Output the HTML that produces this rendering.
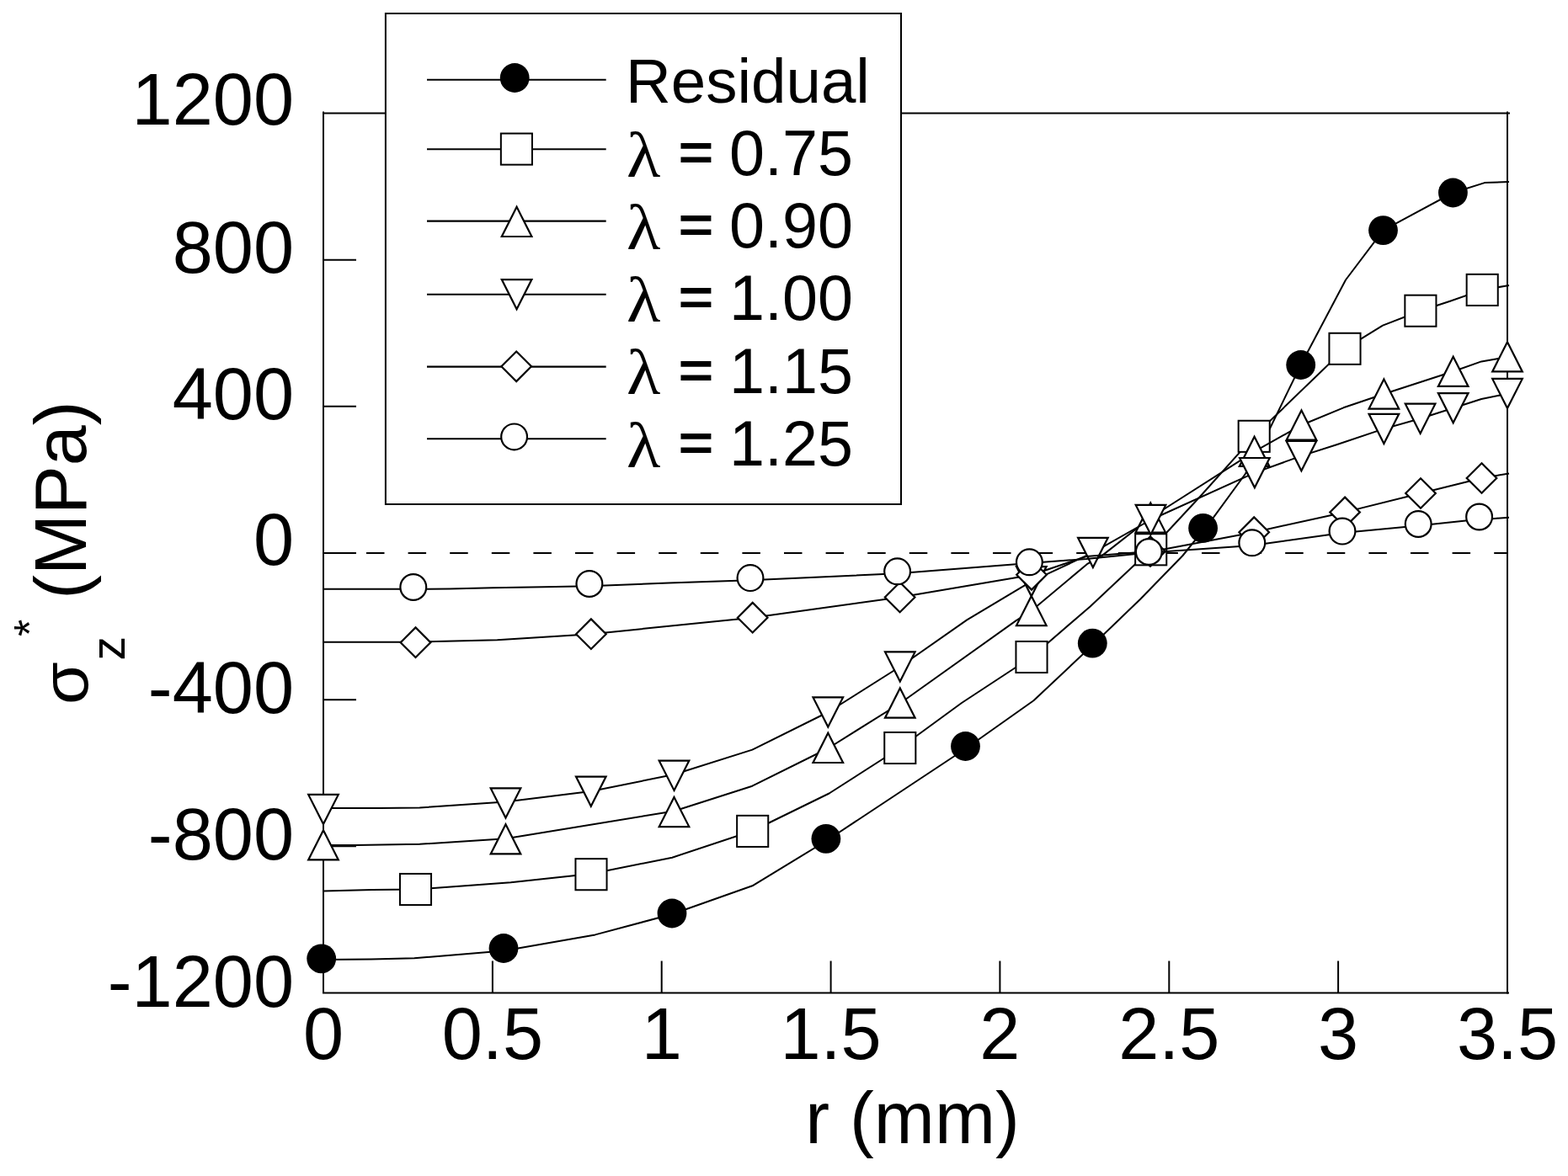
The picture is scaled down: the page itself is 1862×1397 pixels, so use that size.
<!DOCTYPE html>
<html><head><meta charset="utf-8"><title>sigma_z* vs r</title>
<style>html,body{margin:0;padding:0;background:#fff;}body{width:1862px;height:1397px;overflow:hidden;}svg{display:block;}</style>
</head><body>
<svg width="1862" height="1397" viewBox="0 0 1862 1397">
<rect width="1862" height="1397" fill="#fff"/>
<g stroke="#000" stroke-width="2.0" fill="none" stroke-linecap="butt">
<path d="M384.0,132.5 V1179.5 H1792.0"/>
<path d="M383.0,134.5 H1793.0 M1790.0,132.5 V1180.5"/>
<path d="M384.0,308.7 H423.0"/>
<path d="M384.0,482.8 H423.0"/>
<path d="M384.0,657.0 H423.0"/>
<path d="M384.0,831.2 H423.0"/>
<path d="M384.0,1005.3 H423.0"/>
<path d="M584.9,1179.5 V1141.5"/>
<path d="M785.7,1179.5 V1141.5"/>
<path d="M986.6,1179.5 V1141.5"/>
<path d="M1187.4,1179.5 V1141.5"/>
<path d="M1388.3,1179.5 V1141.5"/>
<path d="M1589.1,1179.5 V1141.5"/>
</g>
<path d="M385.4,657.0 H1790.0" stroke="#000" stroke-width="2.0" stroke-dasharray="21.5 28.1" fill="none"/>
<g font-family="Liberation Sans, Arial, sans-serif" font-size="86.5" fill="#000">
<text x="349" y="148" text-anchor="end">1200</text>
<text x="349" y="324.2" text-anchor="end">800</text>
<text x="349" y="497.6" text-anchor="end">400</text>
<text x="349" y="671.2" text-anchor="end">0</text>
<text x="349" y="847" text-anchor="end">-400</text>
<text x="349" y="1021" text-anchor="end">-800</text>
<text x="349" y="1195.6" text-anchor="end">-1200</text>
<text x="384.0" y="1258.2" text-anchor="middle">0</text>
<text x="584.9" y="1258.2" text-anchor="middle">0.5</text>
<text x="785.7" y="1258.2" text-anchor="middle">1</text>
<text x="986.6" y="1258.2" text-anchor="middle">1.5</text>
<text x="1187.4" y="1258.2" text-anchor="middle">2</text>
<text x="1388.3" y="1258.2" text-anchor="middle">2.5</text>
<text x="1589.1" y="1258.2" text-anchor="middle">3</text>
<text x="1790.0" y="1258.2" text-anchor="middle">3.5</text>
<text x="1083.5" y="1357.9" text-anchor="middle">r (mm)</text>
</g>
<g font-family="Liberation Sans, Arial, sans-serif" fill="#000">
<text transform="translate(101.5,711.8) rotate(-90)" font-size="86.5">(MPa)</text>
<text transform="translate(104,837) rotate(-90) scale(1.07,1)" font-size="77">σ</text>
<text transform="translate(148,784.5) rotate(-90)" font-size="57">z</text>
<text transform="translate(53,756) rotate(-90)" font-size="52">*</text>
</g>
<polyline points="384.0,1140.0 441.0,1139.5 492.0,1138.2 598.0,1129.5 706.8,1110.4 798.0,1086.0 893.4,1052.3 981.0,999.0 1146.5,889.5 1227.4,832.2 1297.3,766.5 1354.4,711.5 1404.5,660.0 1441.6,613.9 1478.8,563.0 1508.0,509.0 1544.7,433.5 1598.0,332.5 1642.5,273.6 1725.4,229.0 1763.0,217.1 1792.0,216.0" fill="none" stroke="#000" stroke-width="2.0" stroke-linejoin="round"/>
<circle cx="381.7" cy="1138.8" r="17.4" fill="#000"/>
<circle cx="598.0" cy="1126.5" r="17.4" fill="#000"/>
<circle cx="798.0" cy="1085.0" r="17.4" fill="#000"/>
<circle cx="980.9" cy="996.3" r="17.4" fill="#000"/>
<circle cx="1146.5" cy="886.5" r="17.4" fill="#000"/>
<circle cx="1297.3" cy="764.2" r="17.4" fill="#000"/>
<circle cx="1428.6" cy="627.4" r="17.4" fill="#000"/>
<circle cx="1544.7" cy="433.5" r="17.4" fill="#000"/>
<circle cx="1642.5" cy="273.6" r="17.4" fill="#000"/>
<circle cx="1725.4" cy="229.0" r="17.4" fill="#000"/>
<polyline points="384.0,1058.4 442.0,1057.0 493.5,1056.5 606.5,1048.3 702.0,1038.0 798.2,1018.7 893.7,987.0 984.6,942.5 1068.8,888.5 1142.0,835.0 1225.0,780.5 1294.6,720.4 1366.7,652.8 1425.0,590.0 1489.2,518.3 1597.0,414.3 1642.0,386.6 1686.9,369.2 1722.0,357.7 1760.2,344.4 1792.0,339.0" fill="none" stroke="#000" stroke-width="2.0" stroke-linejoin="round"/>
<rect x="474.95" y="1037.95" width="37.1" height="37.1" fill="#fff" stroke="#000" stroke-width="2.0"/>
<rect x="683.45" y="1020.15" width="37.1" height="37.1" fill="#fff" stroke="#000" stroke-width="2.0"/>
<rect x="875.15" y="968.85" width="37.1" height="37.1" fill="#fff" stroke="#000" stroke-width="2.0"/>
<rect x="1050.25" y="869.95" width="37.1" height="37.1" fill="#fff" stroke="#000" stroke-width="2.0"/>
<rect x="1206.45" y="761.95" width="37.1" height="37.1" fill="#fff" stroke="#000" stroke-width="2.0"/>
<rect x="1348.15" y="634.25" width="37.1" height="37.1" fill="#fff" stroke="#000" stroke-width="2.0"/>
<rect x="1470.65" y="499.75" width="37.1" height="37.1" fill="#fff" stroke="#000" stroke-width="2.0"/>
<rect x="1578.45" y="395.75" width="37.1" height="37.1" fill="#fff" stroke="#000" stroke-width="2.0"/>
<rect x="1668.35" y="350.65" width="37.1" height="37.1" fill="#fff" stroke="#000" stroke-width="2.0"/>
<rect x="1741.65" y="325.85" width="37.1" height="37.1" fill="#fff" stroke="#000" stroke-width="2.0"/>
<polyline points="384.0,1004.0 422.0,1004.0 498.3,1002.8 600.5,996.3 800.5,963.5 893.4,933.7 983.3,889.0 1068.8,835.5 1206.4,737.4 1224.8,725.5 1290.8,670.2 1308.9,659.9 1366.3,615.0 1489.6,536.3 1545.5,505.0 1595.4,484.3 1643.4,468.0 1725.7,441.3 1759.2,429.4 1777.8,426.2 1792.0,424.0" fill="none" stroke="#000" stroke-width="2.0" stroke-linejoin="round"/>
<path d="M384.0,986.2 L401.8,1021.4 L366.2,1021.4 Z" fill="#fff" stroke="#000" stroke-width="2.2" stroke-linejoin="miter"/>
<path d="M600.5,979.2 L618.3,1014.4 L582.7,1014.4 Z" fill="#fff" stroke="#000" stroke-width="2.2" stroke-linejoin="miter"/>
<path d="M800.5,946.9 L818.3,982.1 L782.7,982.1 Z" fill="#fff" stroke="#000" stroke-width="2.2" stroke-linejoin="miter"/>
<path d="M983.3,870.8 L1001.1,906.0 L965.5,906.0 Z" fill="#fff" stroke="#000" stroke-width="2.2" stroke-linejoin="miter"/>
<path d="M1068.8,817.5 L1086.6,852.7 L1051.0,852.7 Z" fill="#fff" stroke="#000" stroke-width="2.2" stroke-linejoin="miter"/>
<path d="M1224.8,707.9 L1242.6,743.1 L1207.0,743.1 Z" fill="#fff" stroke="#000" stroke-width="2.2" stroke-linejoin="miter"/>
<path d="M1366.3,597.4 L1384.1,632.6 L1348.5,632.6 Z" fill="#fff" stroke="#000" stroke-width="2.2" stroke-linejoin="miter"/>
<path d="M1489.6,518.7 L1507.4,553.9 L1471.8,553.9 Z" fill="#fff" stroke="#000" stroke-width="2.2" stroke-linejoin="miter"/>
<path d="M1545.5,487.5 L1563.3,522.7 L1527.7,522.7 Z" fill="#fff" stroke="#000" stroke-width="2.2" stroke-linejoin="miter"/>
<path d="M1643.4,450.4 L1661.2,485.6 L1625.6,485.6 Z" fill="#fff" stroke="#000" stroke-width="2.2" stroke-linejoin="miter"/>
<path d="M1725.7,423.7 L1743.5,458.9 L1707.9,458.9 Z" fill="#fff" stroke="#000" stroke-width="2.2" stroke-linejoin="miter"/>
<path d="M1790.0,406.2 L1807.8,441.4 L1772.2,441.4 Z" fill="#fff" stroke="#000" stroke-width="2.2" stroke-linejoin="miter"/>
<polyline points="384.0,960.1 450.2,960.1 498.3,959.5 600.5,952.5 701.8,940.0 800.5,920.0 893.4,890.6 983.3,846.0 1068.8,792.0 1148.3,736.4 1224.8,690.7 1297.9,656.4 1366.5,617.5 1489.9,561.6 1545.4,541.6 1588.0,528.0 1643.4,509.4 1686.6,497.3 1725.7,484.7 1759.2,474.0 1781.6,469.4 1792.0,467.5" fill="none" stroke="#000" stroke-width="2.0" stroke-linejoin="round"/>
<path d="M384.0,979.1 L401.8,943.9 L366.2,943.9 Z" fill="#fff" stroke="#000" stroke-width="2.2" stroke-linejoin="miter"/>
<path d="M600.5,971.6 L618.3,936.4 L582.7,936.4 Z" fill="#fff" stroke="#000" stroke-width="2.2" stroke-linejoin="miter"/>
<path d="M701.8,957.8 L719.6,922.6 L684.0,922.6 Z" fill="#fff" stroke="#000" stroke-width="2.2" stroke-linejoin="miter"/>
<path d="M800.5,938.9 L818.3,903.7 L782.7,903.7 Z" fill="#fff" stroke="#000" stroke-width="2.2" stroke-linejoin="miter"/>
<path d="M983.3,863.6 L1001.1,828.4 L965.5,828.4 Z" fill="#fff" stroke="#000" stroke-width="2.2" stroke-linejoin="miter"/>
<path d="M1068.8,809.6 L1086.6,774.4 L1051.0,774.4 Z" fill="#fff" stroke="#000" stroke-width="2.2" stroke-linejoin="miter"/>
<path d="M1224.8,708.3 L1242.6,673.1 L1207.0,673.1 Z" fill="#fff" stroke="#000" stroke-width="2.2" stroke-linejoin="miter"/>
<path d="M1297.9,674.0 L1315.7,638.8 L1280.1,638.8 Z" fill="#fff" stroke="#000" stroke-width="2.2" stroke-linejoin="miter"/>
<path d="M1366.5,635.1 L1384.3,599.9 L1348.7,599.9 Z" fill="#fff" stroke="#000" stroke-width="2.2" stroke-linejoin="miter"/>
<path d="M1489.9,579.2 L1507.7,544.0 L1472.1,544.0 Z" fill="#fff" stroke="#000" stroke-width="2.2" stroke-linejoin="miter"/>
<path d="M1545.4,559.2 L1563.2,524.0 L1527.6,524.0 Z" fill="#fff" stroke="#000" stroke-width="2.2" stroke-linejoin="miter"/>
<path d="M1643.4,527.0 L1661.2,491.8 L1625.6,491.8 Z" fill="#fff" stroke="#000" stroke-width="2.2" stroke-linejoin="miter"/>
<path d="M1686.6,514.9 L1704.4,479.7 L1668.8,479.7 Z" fill="#fff" stroke="#000" stroke-width="2.2" stroke-linejoin="miter"/>
<path d="M1725.7,502.3 L1743.5,467.1 L1707.9,467.1 Z" fill="#fff" stroke="#000" stroke-width="2.2" stroke-linejoin="miter"/>
<path d="M1790.0,485.1 L1807.8,449.9 L1772.2,449.9 Z" fill="#fff" stroke="#000" stroke-width="2.2" stroke-linejoin="miter"/>
<polyline points="384.0,762.7 493.5,762.7 590.5,760.2 701.9,753.2 893.7,733.7 1068.6,709.5 1225.0,683.0 1290.0,661.0 1366.0,655.0 1384.8,652.1 1489.2,632.2 1597.1,608.4 1687.0,586.0 1759.5,568.0 1792.0,562.4" fill="none" stroke="#000" stroke-width="2.0" stroke-linejoin="round"/>
<path d="M493.5,745.4 L511.3,763.2 L493.5,781.0 L475.7,763.2 Z" fill="#fff" stroke="#000" stroke-width="2.2" stroke-linejoin="miter"/>
<path d="M701.9,735.4 L719.7,753.2 L701.9,771.0 L684.1,753.2 Z" fill="#fff" stroke="#000" stroke-width="2.2" stroke-linejoin="miter"/>
<path d="M893.7,715.9 L911.5,733.7 L893.7,751.5 L875.9,733.7 Z" fill="#fff" stroke="#000" stroke-width="2.2" stroke-linejoin="miter"/>
<path d="M1068.6,691.7 L1086.4,709.5 L1068.6,727.3 L1050.8,709.5 Z" fill="#fff" stroke="#000" stroke-width="2.2" stroke-linejoin="miter"/>
<path d="M1225.0,665.0 L1242.8,682.8 L1225.0,700.6 L1207.2,682.8 Z" fill="#fff" stroke="#000" stroke-width="2.2" stroke-linejoin="miter"/>
<path d="M1366.0,637.2 L1383.8,655.0 L1366.0,672.8 L1348.2,655.0 Z" fill="#fff" stroke="#000" stroke-width="2.2" stroke-linejoin="miter"/>
<path d="M1489.2,614.4 L1507.0,632.2 L1489.2,650.0 L1471.4,632.2 Z" fill="#fff" stroke="#000" stroke-width="2.2" stroke-linejoin="miter"/>
<path d="M1597.1,590.6 L1614.9,608.4 L1597.1,626.2 L1579.3,608.4 Z" fill="#fff" stroke="#000" stroke-width="2.2" stroke-linejoin="miter"/>
<path d="M1687.0,568.2 L1704.8,586.0 L1687.0,603.8 L1669.2,586.0 Z" fill="#fff" stroke="#000" stroke-width="2.2" stroke-linejoin="miter"/>
<path d="M1759.5,550.2 L1777.3,568.0 L1759.5,585.8 L1741.7,568.0 Z" fill="#fff" stroke="#000" stroke-width="2.2" stroke-linejoin="miter"/>
<polyline points="384.0,699.7 509.0,699.7 534.0,699.5 585.0,698.3 646.0,697.3 699.9,696.2 794.0,692.5 891.0,689.2 1065.6,681.3 1222.4,669.0 1290.0,664.0 1364.3,656.5 1486.8,648.0 1594.0,633.0 1684.2,624.5 1740.7,618.6 1775.0,615.9 1792.0,614.7" fill="none" stroke="#000" stroke-width="2.0" stroke-linejoin="round"/>
<circle cx="490.8" cy="697.5" r="15.4" fill="#fff" stroke="#000" stroke-width="2.2"/>
<circle cx="699.9" cy="693.5" r="15.4" fill="#fff" stroke="#000" stroke-width="2.2"/>
<circle cx="891.0" cy="686.6" r="15.4" fill="#fff" stroke="#000" stroke-width="2.2"/>
<circle cx="1065.6" cy="678.8" r="15.4" fill="#fff" stroke="#000" stroke-width="2.2"/>
<circle cx="1222.4" cy="667.8" r="15.4" fill="#fff" stroke="#000" stroke-width="2.2"/>
<circle cx="1364.3" cy="655.5" r="15.4" fill="#fff" stroke="#000" stroke-width="2.2"/>
<circle cx="1486.8" cy="644.8" r="15.4" fill="#fff" stroke="#000" stroke-width="2.2"/>
<circle cx="1594.0" cy="631.1" r="15.4" fill="#fff" stroke="#000" stroke-width="2.2"/>
<circle cx="1684.2" cy="622.5" r="15.4" fill="#fff" stroke="#000" stroke-width="2.2"/>
<circle cx="1756.6" cy="614.0" r="15.4" fill="#fff" stroke="#000" stroke-width="2.2"/>
<rect x="457.9" y="16" width="612.1" height="583" fill="#fff" stroke="#000" stroke-width="2"/>
<path d="M507,94.7 H719.7" stroke="#000" stroke-width="2.1"/>
<circle cx="611.2" cy="92.5" r="17.4" fill="#000"/>
<path d="M507,177.3 H719.7" stroke="#000" stroke-width="2.1"/>
<rect x="594.85" y="158.55" width="37.1" height="37.1" fill="#fff" stroke="#000" stroke-width="2.0"/>
<path d="M507,262.6 H719.7" stroke="#000" stroke-width="2.1"/>
<path d="M613.6,245.8 L631.4,281.0 L595.8,281.0 Z" fill="#fff" stroke="#000" stroke-width="2.2" stroke-linejoin="miter"/>
<path d="M507,349.7 H719.7" stroke="#000" stroke-width="2.1"/>
<path d="M613.6,367.3 L631.4,332.1 L595.8,332.1 Z" fill="#fff" stroke="#000" stroke-width="2.2" stroke-linejoin="miter"/>
<path d="M507,435.6 H719.7" stroke="#000" stroke-width="2.1"/>
<path d="M613.2,417.5 L631.0,435.3 L613.2,453.1 L595.4,435.3 Z" fill="#fff" stroke="#000" stroke-width="2.2" stroke-linejoin="miter"/>
<path d="M507,521.2 H719.7" stroke="#000" stroke-width="2.1"/>
<circle cx="610.6" cy="518.9" r="15.4" fill="#fff" stroke="#000" stroke-width="2.2"/>
<g font-family="Liberation Sans, Arial, sans-serif" font-size="75.5" fill="#000">
<text x="743" y="121.8" font-size="74.5">Residual</text>
<text transform="translate(744,209.5) scale(1.1,1)" font-family="Liberation Serif, serif">λ</text>
<text transform="translate(805.5,201.9) scale(0.95,0.82)" font-weight="bold">=</text>
<text x="866" y="208.0">0.75</text>
<text transform="translate(744,295.7) scale(1.1,1)" font-family="Liberation Serif, serif">λ</text>
<text transform="translate(805.5,288.1) scale(0.95,0.82)" font-weight="bold">=</text>
<text x="866" y="294.2">0.90</text>
<text transform="translate(744,381.9) scale(1.1,1)" font-family="Liberation Serif, serif">λ</text>
<text transform="translate(805.5,374.3) scale(0.95,0.82)" font-weight="bold">=</text>
<text x="866" y="380.4">1.00</text>
<text transform="translate(744,468.2) scale(1.1,1)" font-family="Liberation Serif, serif">λ</text>
<text transform="translate(805.5,460.6) scale(0.95,0.82)" font-weight="bold">=</text>
<text x="866" y="466.7">1.15</text>
<text transform="translate(744,554.5) scale(1.1,1)" font-family="Liberation Serif, serif">λ</text>
<text transform="translate(805.5,546.9) scale(0.95,0.82)" font-weight="bold">=</text>
<text x="866" y="553.0">1.25</text>
</g>
</svg>
</body></html>
